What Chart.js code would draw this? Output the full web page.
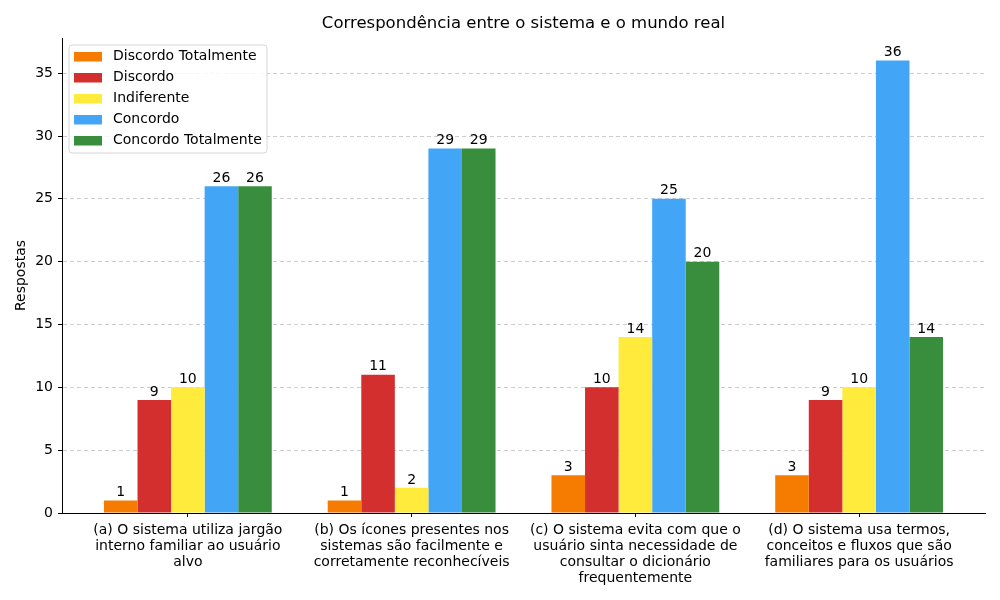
<!DOCTYPE html>
<html>
<head>
<meta charset="utf-8">
<script src="https://cdn.jsdelivr.net/npm/chart.js@4"></script>
<style>
  body { margin: 0; background: #fff; }
  #wrap { width: 1000px; height: 600px; }
</style>
</head>
<body>
<div id="wrap"><canvas id="myChart" width="1000" height="600"></canvas></div>
<script>
var categories = [
    ["(a) O sistema utiliza jargão", "interno familiar ao usuário", "alvo"],
    ["(b) Os ícones presentes nos", "sistemas são facilmente e", "corretamente reconhecíveis"],
    ["(c) O sistema evita com que o", "usuário sinta necessidade de", "consultar o dicionário", "frequentemente"],
    ["(d) O sistema usa termos,", "conceitos e fluxos que são", "familiares para os usuários"]
];
var seriesNames = ["Discordo Totalmente", "Discordo", "Indiferente", "Concordo", "Concordo Totalmente"];
var discordoTotalmente = [1, 1, 3, 3];
var discordo = [9, 11, 10, 9];
var indiferente = [10, 2, 14, 10];
var concordo = [26, 29, 25, 36];
var concordoTotalmente = [26, 29, 20, 14];
var yTicks = [0, 5, 10, 15, 20, 25, 30, 35];
var colors = ['#F57C00', '#D32F2F', '#FFEB3B', '#42A5F5', '#388E3C'];

var FONT = 'DejaVu Sans';
var allSeries = [discordoTotalmente, discordo, indiferente, concordo, concordoTotalmente];

function toPoints(values) {
    return values.map(function (v, i) { return { x: i, y: v }; });
}

// value labels on top of each bar
var barLabels = {
    id: 'barLabels',
    afterDatasetsDraw: function (chart) {
        var ctx = chart.ctx;
        ctx.save();
        ctx.font = '14px "' + FONT + '"';
        ctx.fillStyle = '#000';
        ctx.textAlign = 'center';
        ctx.textBaseline = 'bottom';
        chart.data.datasets.forEach(function (ds, di) {
            chart.getDatasetMeta(di).data.forEach(function (bar, i) {
                ctx.fillText(String(ds.data[i].y), bar.x, bar.y - 1);
            });
        });
        ctx.restore();
    }
};

// matplotlib-like legend in the upper left of the plot + title
var boxLegend = {
    id: 'boxLegend',
    afterDraw: function (chart) {
        var ctx = chart.ctx;
        var area = chart.chartArea;
        ctx.save();
        ctx.font = '16.5px "' + FONT + '"';
        ctx.fillStyle = '#000';
        ctx.textAlign = 'center';
        ctx.textBaseline = 'middle';
        ctx.fillText('Correspondência entre o sistema e o mundo real', (area.left + area.right) / 2, 24);

        var x0 = area.left + 7, y0 = area.top + 7, w = 198, h = 108, r = 3;
        ctx.beginPath();
        ctx.moveTo(x0 + r, y0);
        ctx.arcTo(x0 + w, y0, x0 + w, y0 + h, r);
        ctx.arcTo(x0 + w, y0 + h, x0, y0 + h, r);
        ctx.arcTo(x0, y0 + h, x0, y0, r);
        ctx.arcTo(x0, y0, x0 + w, y0, r);
        ctx.closePath();
        ctx.fillStyle = 'rgba(255,255,255,0.8)';
        ctx.fill();
        ctx.strokeStyle = '#d6d6d6';
        ctx.lineWidth = 1;
        ctx.stroke();

        ctx.font = '14px "' + FONT + '"';
        ctx.textAlign = 'left';
        chart.data.datasets.forEach(function (ds, i) {
            var cy = y0 + 11.5 + i * 21;
            ctx.fillStyle = ds.backgroundColor;
            ctx.fillRect(x0 + 5, cy - 4.5, 28, 9.5);
            ctx.fillStyle = '#000';
            ctx.fillText(ds.label, x0 + 44, cy);
        });
        ctx.restore();
    }
};

var ctx = document.getElementById('myChart').getContext('2d');
var chart = new Chart(ctx, {
    type: 'bar',
    data: {
        datasets: seriesNames.map(function (name, i) {
            return {
                label: name,
                data: toPoints(allSeries[i]),
                backgroundColor: colors[i],
                borderWidth: 0
            };
        })
    },
    options: {
        responsive: false,
        animation: false,
        layout: { padding: { left: 0, right: 15, top: 38, bottom: 0 } },
        datasets: { bar: { categoryPercentage: 0.75, barPercentage: 1.0 } },
        plugins: {
            legend: { display: false },
            title: { display: false },
            tooltip: { enabled: false }
        },
        scales: {
            x: {
                type: 'linear',
                min: -0.5625,
                max: 3.5625,
                offset: false,
                afterBuildTicks: function (scale) {
                    scale.ticks = categories.map(function (c, i) { return { value: i }; });
                },
                afterFit: function (scale) { scale.height = 87; },
                ticks: {
                    autoSkip: false,
                    maxRotation: 0,
                    padding: 5,
                    color: '#000',
                    font: { family: FONT, size: 14, lineHeight: 1.15 },
                    callback: function (v) { return categories[v]; }
                },
                grid: {
                    offset: false,
                    drawOnChartArea: false,
                    tickLength: 4,
                    tickColor: '#000',
                    color: '#000'
                },
                border: { color: '#000', width: 1 }
            },
            y: {
                min: 0,
                max: 37.8,
                afterBuildTicks: function (scale) {
                    scale.ticks = yTicks.map(function (v) { return { value: v }; });
                },
                afterFit: function (scale) { scale.width = 62; },
                ticks: {
                    padding: 5,
                    color: '#000',
                    font: { family: FONT, size: 14 }
                },
                grid: {
                    color: '#cccccc',
                    tickLength: 4,
                    tickColor: '#000',
                    tickBorderDash: []
                },
                border: { color: '#000', width: 1, dash: [4, 3] },
                title: {
                    display: true,
                    text: 'Respostas',
                    color: '#000',
                    font: { family: FONT, size: 14 },
                    padding: { top: 13, bottom: 0 }
                }
            }
        }
    },
    plugins: [barLabels, boxLegend]
});
</script>
</body>
</html>
